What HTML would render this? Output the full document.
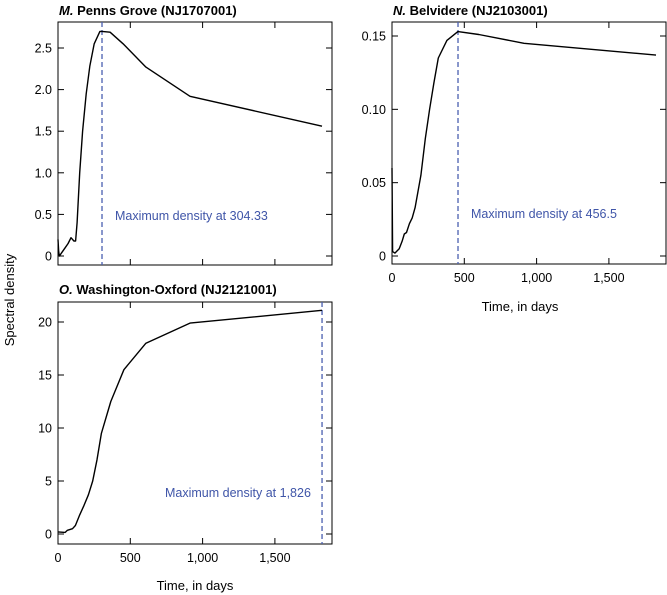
<!DOCTYPE html>
<html><head><meta charset="utf-8"><style>
body{margin:0;background:#fff}
svg{display:block;font-family:"Liberation Sans",sans-serif}
</style></head><body>
<svg id="s" width="667" height="595" xmlns="http://www.w3.org/2000/svg">
<g font-size="13" fill="#000">
<text x="59" y="15" font-weight="bold"><tspan font-style="italic">M.</tspan>  Penns Grove (NJ1707001)</text>
<text x="393" y="15" font-weight="bold"><tspan font-style="italic">N.</tspan>  Belvidere (NJ2103001)</text>
<text x="59" y="294" font-weight="bold"><tspan font-style="italic">O.</tspan>  Washington-Oxford (NJ2121001)</text>
<text transform="translate(14,300) rotate(-90)" text-anchor="middle" font-size="13">Spectral density</text>
<text x="520" y="311" text-anchor="middle">Time, in days</text>
<text x="195" y="590" text-anchor="middle">Time, in days</text>
</g>
<g id="plots"></g>
</svg>
<script>
const NS="http://www.w3.org/2000/svg";
const g=document.getElementById('plots');
function el(t,a,txt){const e=document.createElementNS(NS,t);for(const k in a)e.setAttribute(k,a[k]);if(txt!==undefined)e.textContent=txt;g.appendChild(e);return e;}
function panel(o){
 const {x0,x1,top,bot,y0px,yTopPx,yTopVal,yticks,data,peak,label,lx,ly,xlabels}=o;
 const sx=d=>x0+d*(72.3/500), sy=v=>y0px-(v/yTopVal)*(y0px-yTopPx);
 el('rect',{x:x0,y:top,width:x1-x0,height:bot-top,fill:'none',stroke:'#000','stroke-width':1});
 yticks.forEach(([v,t])=>{const y=sy(v);
  el('line',{x1:x0,y1:y,x2:x0+6,y2:y,stroke:'#000'});
  el('line',{x1:x1-6,y1:y,x2:x1,y2:y,stroke:'#000'});
  el('text',{x:x0-6,y:y+4.5,'text-anchor':'end','font-size':'12.5'},t);});
 [0,500,1000,1500].forEach((d,i)=>{const x=sx(d);
  if(i>0){el('line',{x1:x,y1:bot,x2:x,y2:bot-6,stroke:'#000'});el('line',{x1:x,y1:top,x2:x,y2:top+6,stroke:'#000'});}
  if(xlabels) el('text',{x:x,y:bot+18,'text-anchor':'middle','font-size':'12.5'},['0','500','1,000','1,500'][i]);});
 el('line',{x1:sx(peak),y1:top,x2:sx(peak),y2:bot,stroke:'#4a5fb0','stroke-width':1.3,'stroke-dasharray':'5,3'});
 el('polyline',{points:data.map(([d,v])=>sx(d).toFixed(1)+','+sy(v).toFixed(1)).join(' '),fill:'none',stroke:'#000','stroke-width':1.4,'stroke-linejoin':'round'});
 el('text',{x:lx,y:ly,'font-size':'12.5',fill:'#3f55a8'},label);
}
panel({x0:58,x1:332,top:22,bot:265,y0px:256,yTopPx:48,yTopVal:2.5,
 yticks:[[0,'0'],[0.5,'0.5'],[1,'1.0'],[1.5,'1.5'],[2,'2.0'],[2.5,'2.5']],
 data:[[0,0.2],[5,0.05],[10,0],[30,0.05],[50,0.1],[70,0.15],[90,0.22],[110,0.18],[122,0.18],[132,0.4],[150,1.0],[170,1.5],[195,1.95],[220,2.28],[250,2.55],[290,2.7],[304,2.7],[360,2.69],[450,2.55],[608,2.27],[913,1.92],[1826,1.56]],
 peak:304.33,label:'Maximum density at 304.33',lx:115,ly:220,xlabels:false});
panel({x0:392,x1:666,top:22,bot:264,y0px:256,yTopPx:36,yTopVal:0.15,
 yticks:[[0,'0'],[0.05,'0.05'],[0.1,'0.10'],[0.15,'0.15']],
 data:[[0,0.06],[4,0.003],[20,0.002],[50,0.005],[70,0.01],[85,0.015],[100,0.016],[120,0.022],[140,0.026],[160,0.033],[200,0.055],[230,0.08],[260,0.1],[290,0.118],[320,0.135],[380,0.147],[456,0.153],[600,0.151],[913,0.145],[1826,0.137]],
 peak:456.5,label:'Maximum density at 456.5',lx:471,ly:218,xlabels:true});
panel({x0:58,x1:332,top:302,bot:544,y0px:534,yTopPx:322,yTopVal:20,
 yticks:[[0,'0'],[5,'5'],[10,'10'],[15,'15'],[20,'20']],
 data:[[0,0.2],[50,0.15],[65,0.35],[100,0.5],[120,0.8],[150,1.8],[180,2.7],[210,3.7],[240,5],[270,7],[300,9.5],[365,12.5],[456,15.5],[608,18],[913,19.9],[1826,21.1]],
 peak:1826,label:'Maximum density at 1,826',lx:165,ly:497,xlabels:true});
</script>
</body></html>
